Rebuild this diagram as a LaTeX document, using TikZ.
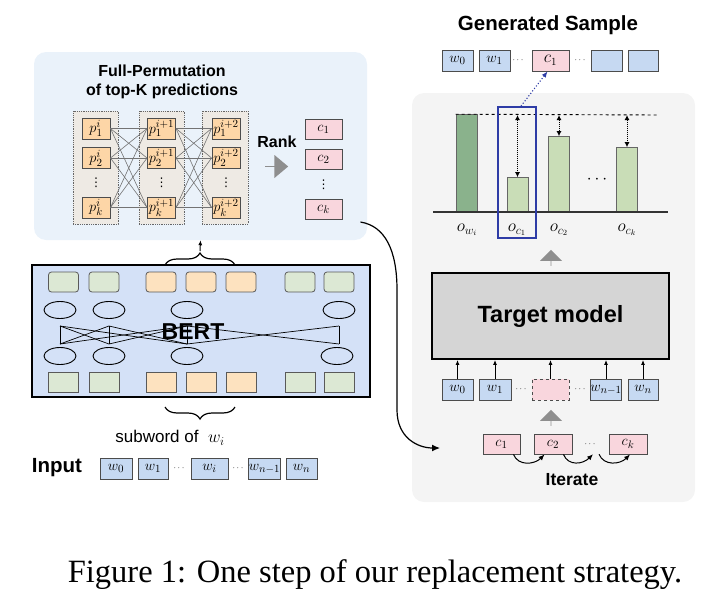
\documentclass[tikz,border=0pt]{standalone}
\usepackage{fontspec}
\setmainfont{Liberation Serif}
\setsansfont{Liberation Sans}
\newfontfamily\symfont{DejaVu Sans}
\usetikzlibrary{positioning,arrows.meta,shapes.arrows,shapes.geometric,decorations.pathreplacing}

\definecolor{panelblue}{HTML}{EAF2FA}
\definecolor{panelgray}{HTML}{F4F4F4}
\definecolor{colfill}{HTML}{EEEAE4}
\definecolor{porange}{HTML}{FDD6A7}
\definecolor{cpink}{HTML}{F9D6DD}
\definecolor{wblue}{HTML}{C6D9F2}
\definecolor{bertblue}{HTML}{D4E1F7}
\definecolor{cellgreen}{HTML}{DCE8D4}
\definecolor{cellorange}{HTML}{FDE2BF}
\definecolor{bardark}{HTML}{8AB28C}
\definecolor{barlight}{HTML}{C9DDB7}
\definecolor{targetgray}{HTML}{D5D5D5}
\definecolor{pickblue}{HTML}{2E3CA6}
\definecolor{arrowgray}{HTML}{8E8E8E}

\tikzset{
  panel/.style={rounded corners=12pt,inner sep=0pt,draw=none},
  box/.style={draw=black!70,line width=0.9pt,inner sep=0pt,font=\fontsize{15}{15}\selectfont},
  pbox/.style={box,fill=porange,minimum width=28pt,minimum height=21pt},
  cbox/.style={box,fill=cpink,minimum width=37pt,minimum height=20pt},
  wbox/.style={box,fill=wblue,minimum width=31pt,minimum height=21pt},
  dotsnode/.style={inner sep=0pt,minimum height=20pt,font=\fontsize{9}{9}\selectfont},
  vdotsnode/.style={inner sep=0pt,font=\symfont\fontsize{12}{12}\selectfont},
  permcol/.style={draw=black!60,densely dotted,line width=0.8pt,fill=colfill,inner sep=0pt},
  permline/.style={draw=black!55,line width=0.6pt},
  cell/.style={draw=black!65,line width=0.8pt,inner sep=0pt,minimum width=30pt,minimum height=20pt},
  ell/.style={ellipse,draw=black,line width=0.9pt,inner sep=0pt,minimum width=32pt,minimum height=17pt},
  attn/.style={draw=black,line width=0.7pt},
  heading/.style={font=\sffamily\bfseries\fontsize{16}{19}\selectfont,align=center},
  bigtitle/.style={font=\sffamily\bfseries\fontsize{23}{23}\selectfont},
  grayarrow/.style={single arrow,fill=arrowgray,inner sep=0pt,draw=none},
  brace/.style={decorate,decoration={brace,amplitude=12pt},line width=1.2pt},
  bar/.style={draw=black!60,line width=0.8pt,minimum width=21pt,anchor=south,inner sep=0pt},
  gap/.style={densely dotted,line width=1pt,{Latex[length=5pt,width=5pt]}-{Latex[length=5pt,width=5pt]}},
  feed/.style={-{Latex[length=5pt,width=4pt]},line width=1pt},
  hop/.style={-{Latex[length=6pt,width=5pt]},line width=1pt},
  outlabel/.style={font=\fontsize{17}{17}\selectfont}
}

\begin{document}
\begin{tikzpicture}[x=1pt,y=-1pt]
  \useasboundingbox (0,0) rectangle (725,597);

  \node[panel,fill=panelblue,minimum width=333pt,minimum height=188pt] (permpanel) at (200.5,146) {};
  \node[panel,fill=panelgray,minimum width=283pt,minimum height=409pt] (evalpanel) at (553.5,297.5) {};

  % full permutation of the top-K predictions
  \node[heading] (permtitle) at (162,82) {Full-Permutation\\of top-K predictions};
  \node[permcol,minimum width=45pt,minimum height=113pt] (colA) at (95.5,167.5) {};
  \node[permcol,minimum width=45pt,minimum height=113pt] (colB) at (161.5,167.5) {};
  \node[permcol,minimum width=46pt,minimum height=113pt] (colC) at (225,167.5) {};
  \foreach \col/\x/\s in {A/96/i,B/161.5/i+1,C/226/i+2} {
    \node[pbox] (p\col1) at (\x,128.5) {$p_1^{\s}$};
    \node[pbox] (p\col2) at (\x,158) {$p_2^{\s}$};
    \node[vdotsnode] (p\col d) at (\x,183) {⋮};
    \node[pbox] (p\col k) at (\x,207.5) {$p_k^{\s}$};
  }
  \foreach \a in {1,2,k}
    \foreach \b in {1,2,k} {
      \draw[permline] (pA\a.east) -- (pB\b.west);
      \draw[permline] (pB\a.east) -- (pC\b.west);
    }

  \node[heading] (rank) at (277,142) {Rank};
  \node[grayarrow,minimum height=23pt,minimum width=23pt,single arrow head extend=8.5pt,single arrow tip angle=80] (rankarrow) at (276.5,166.5) {};

  \node[cbox] (c1) at (323.5,129) {$c_1$};
  \node[cbox] (c2) at (323.5,159) {$c_2$};
  \node[vdotsnode] (cd) at (323.5,185) {⋮};
  \node[cbox] (ck) at (323.5,209.5) {$c_k$};

  % BERT
  \node[draw=black,line width=1.8pt,fill=bertblue,minimum width=338pt,minimum height=132pt,inner sep=0pt] (bert) at (201,331) {};
  \foreach \x/\c [count=\i] in {63.5/cellgreen,104/cellgreen,161/cellorange,201/cellorange,241/cellorange,300/cellgreen,339/cellgreen} {
    \node[cell,fill=\c,rounded corners=3pt] (top\i) at (\x,282) {};
    \node[cell,fill=\c] (bot\i) at (\x,382.5) {};
  }
  \node[ell] (eu1) at (60,310) {};
  \node[ell] (eu2) at (109,310) {};
  \node[ell] (eu3) at (187,310) {};
  \node[ell] (eu4) at (339,310) {};
  \node[ell] (el1) at (60,356) {};
  \node[ell] (el2) at (109,356) {};
  \node[ell] (el3) at (187,356) {};
  \node[ell] (el4) at (337,356) {};
  \foreach \x in {60,109,187,339}
    \draw[attn] (\x,326) -- (\x,344);
  \foreach \a/\b in {60/109,60/187,109/187,187/339} {
    \draw[attn] (\a,326) -- (\b,344);
    \draw[attn] (\a,344) -- (\b,326);
  }
  \node[bigtitle] (berttext) at (193,332) {BERT};

  \draw[brace] (165,265) -- (235,265);
  \coordinate (bracetip) at (200,251);
  \draw[feed] (bracetip) -- (permpanel.south);
  \draw[brace] (235,407) -- (165,407);
  \node[font=\sffamily\fontsize{17}{17}\selectfont] (subword) at (170,438) {subword of \ $w_i$};

  % input sentence
  \node[font=\sffamily\bfseries\fontsize{20.5}{20.5}\selectfont] (input) at (57,468) {Input};
  \node[wbox,minimum width=32pt] (w0) at (116,468.5) {$w_0$};
  \node[wbox,minimum width=30pt] (w1) at (153,468.5) {$w_1$};
  \node[dotsnode] (wdA) at (179,468.5) {$\cdots$};
  \node[wbox,minimum width=37pt] (wi) at (209.5,468.5) {$w_i$};
  \node[dotsnode] (wdB) at (238,468.5) {$\cdots$};
  \node[wbox] (wn1) at (264.5,468.5) {$w_{n-1}$};
  \node[wbox] (wn) at (301.5,468.5) {$w_n$};

  % generated sample
  \node[font=\sffamily\bfseries\fontsize{20.5}{20.5}\selectfont] (gentitle) at (548,25) {Generated Sample};
  \node[wbox] (gw0) at (457.5,60.5) {$w_0$};
  \node[wbox] (gw1) at (494.5,60.5) {$w_1$};
  \node[dotsnode] (gdA) at (518,60.5) {$\cdots$};
  \node[cbox,minimum height=21pt,font=\fontsize{16}{16}\selectfont] (gc1) at (550.5,60.5) {$c_1$};
  \node[dotsnode] (gdB) at (580,60.5) {$\cdots$};
  \node[wbox] (gwA) at (606.5,60.5) {};
  \node[wbox,minimum width=30pt] (gwB) at (643,60.5) {};

  % scores of the target model
  \node[bar,fill=bardark,minimum height=97pt] (bw) at (466.5,212) {};
  \node[bar,fill=barlight,minimum height=34pt] (bc1) at (517.5,212) {};
  \node[bar,fill=barlight,minimum height=75pt] (bc2) at (559,212) {};
  \node[bar,fill=barlight,minimum height=64pt] (bck) at (627,212) {};
  \draw[line width=1.2pt,black!80] (433,212) -- (668,212);
  \coordinate (maxline) at (658,115);
  \draw[dashed,line width=0.9pt] (bw.north west) -- (maxline);
  \draw[gap] (bc1.north |- maxline) -- (bc1.north);
  \draw[gap] (bc2.north |- maxline) -- (bc2.north);
  \draw[gap] (bck.north |- maxline) -- (bck.north);
  \node[font=\bfseries\fontsize{16}{16}\selectfont] (bdots) at (597,180) {$\cdots$};
  \node[outlabel] (lw) at (467,230) {$o_{w_i}$};
  \node[outlabel] (l1) at (517,230) {$o_{c_1}$};
  \node[outlabel] (l2) at (559,230) {$o_{c_2}$};
  \node[outlabel] (lk) at (627,230) {$o_{c_k}$};
  \node[draw=pickblue,line width=1.8pt,minimum width=38pt,minimum height=131pt,inner sep=0pt] (pick) at (517,172.5) {};
  \draw[pickblue,dotted,line width=1.1pt,-{Latex[length=6pt,width=5pt]}] ([xshift=4pt]pick.north) -- ([xshift=-3pt]gc1.south);

  \node[grayarrow,shape border rotate=90,minimum height=16pt,minimum width=22pt,single arrow head extend=6.5pt] (uparrowA) at (551,258) {};

  % target model and its input
  \node[draw=black,line width=1.8pt,fill=targetgray,minimum width=237pt,minimum height=86pt,inner sep=0pt,font=\sffamily\bfseries\fontsize{23.5}{23.5}\selectfont] (target) at (550.5,316) {Target model};
  \node[wbox] (tw0) at (457.5,389.5) {$w_0$};
  \node[wbox,minimum width=32pt] (tw1) at (495,389.5) {$w_1$};
  \node[dotsnode] (tdA) at (521,389.5) {$\cdots$};
  \node[box,fill=cpink,dashed,minimum width=37pt,minimum height=21pt] (slot) at (550.5,389.5) {};
  \node[dotsnode] (tdB) at (580,389.5) {$\cdots$};
  \node[wbox,minimum width=30pt] (twn1) at (606,389.5) {$w_{n-1}$};
  \node[wbox,minimum width=30pt] (twn) at (643,389.5) {$w_n$};
  \foreach \n in {tw0,tw1,slot,twn1,twn}
    \draw[feed] (\n.north) -- (\n.north |- target.south);

  \node[grayarrow,shape border rotate=90,minimum height=16pt,minimum width=22pt,single arrow head extend=6.5pt] (uparrowB) at (551,418) {};

  % iterate over the candidates
  \node[cbox] (ic1) at (501.5,444) {$c_1$};
  \node[cbox,minimum width=38pt] (ic2) at (553,444) {$c_2$};
  \node[dotsnode] (idots) at (590,444) {$\cdots$};
  \node[cbox,minimum width=38pt] (ick) at (628,444) {$c_k$};
  \draw[hop] ([xshift=-7pt]ic1.south east) .. controls +(5,12) and +(-10,10) .. ([xshift=11pt]ic2.south west);
  \draw[hop] ([xshift=-9pt]ic2.south east) .. controls +(5,12) and +(-10,10) .. ([xshift=3pt]idots.south);
  \draw[hop] ([xshift=9pt]idots.south) .. controls +(5,12) and +(-10,10) .. ([xshift=2pt]ick.south);
  \node[font=\sffamily\bfseries\fontsize{17.5}{17.5}\selectfont] (iterate) at (572,480) {Iterate};

  \coordinate (itertip) at (440,448);
  \draw[line width=1.2pt,-{Latex[length=8pt,width=7pt]}] ([xshift=18pt,yshift=-12.5pt]ck.east) .. controls (385,226) and (397,250) .. (397,290) -- (397,410) .. controls (397,438) and (418,448) .. (itertip);

  \node[anchor=base,font=\fontsize{32.5}{34}\selectfont] (caption) at (375,582) {Figure 1: One step of our replacement strategy.};
\end{tikzpicture}
\end{document}
